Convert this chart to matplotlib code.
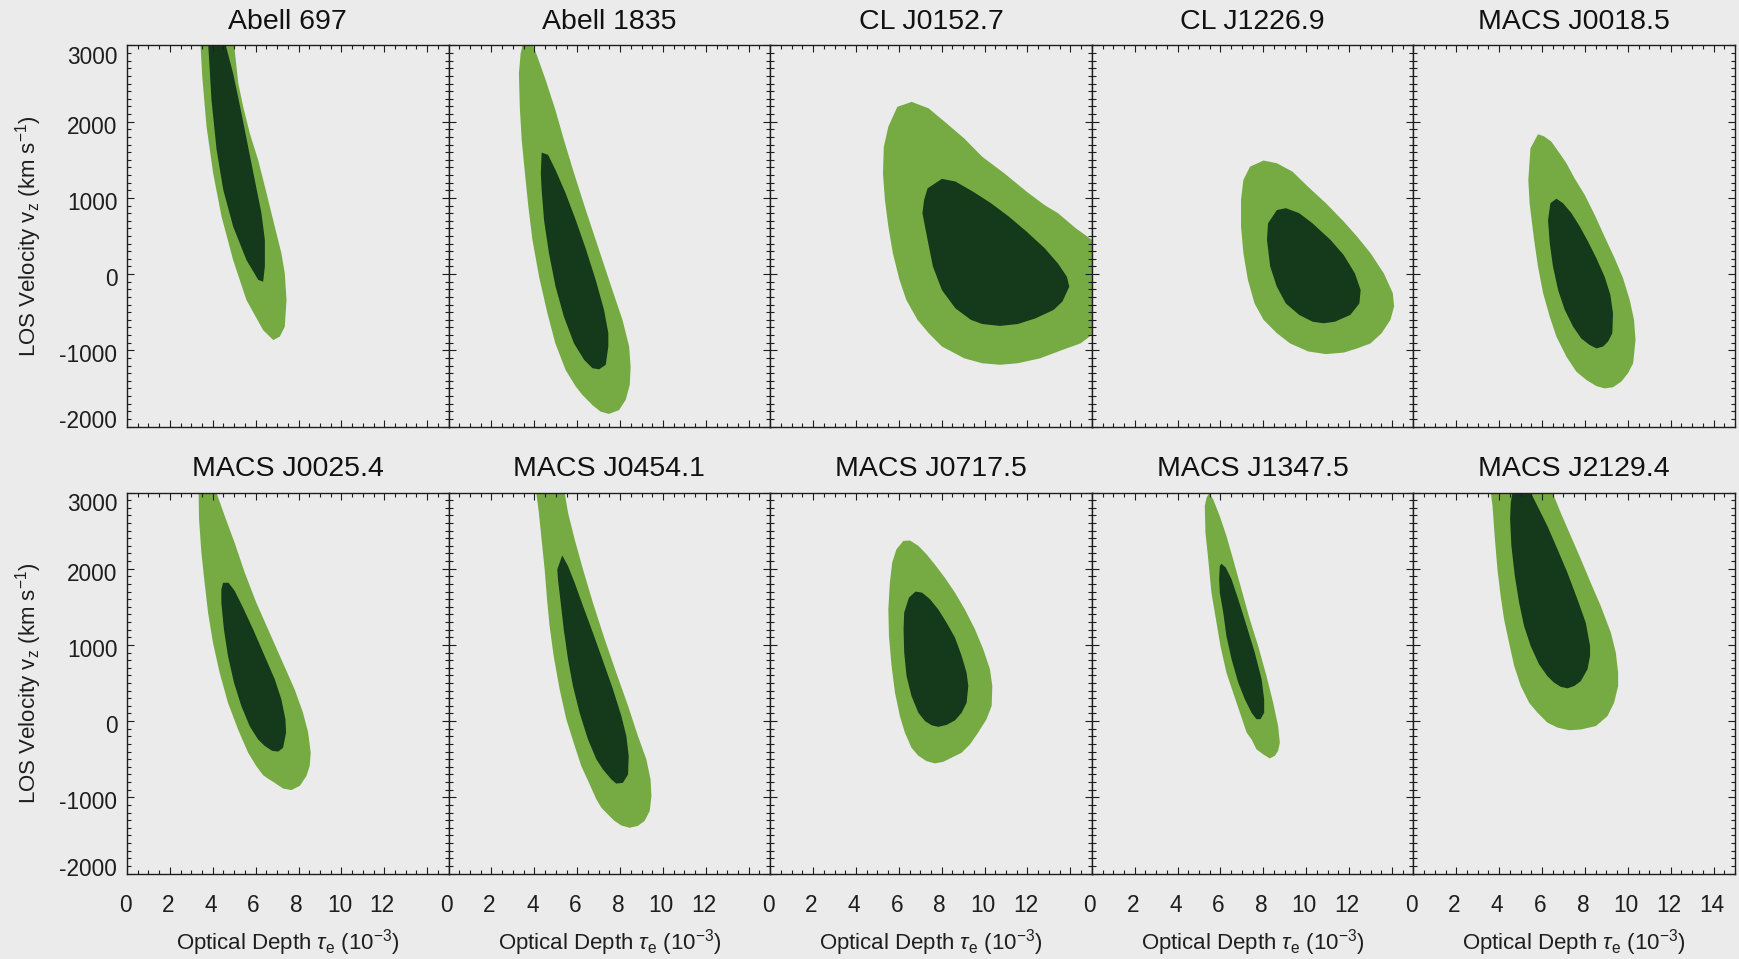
import numpy as np
import matplotlib
matplotlib.use("Agg")
import matplotlib.pyplot as plt
from matplotlib.ticker import MultipleLocator
from matplotlib.transforms import ScaledTranslation

plt.rcParams['font.family'] = ['Liberation Sans', 'DejaVu Sans']
plt.rcParams['mathtext.fontset'] = 'custom'
plt.rcParams['mathtext.rm'] = 'Liberation Sans'
plt.rcParams['mathtext.it'] = 'Liberation Sans:italic'
plt.rcParams['mathtext.bf'] = 'Liberation Sans:bold'

# cluster names, in panel order
clusters = ["Abell 697", "Abell 1835", "CL J0152.7", "CL J1226.9", "MACS J0018.5",
            "MACS J0025.4", "MACS J0454.1", "MACS J0717.5", "MACS J1347.5", "MACS J2129.4"]

# contour outlines: (tau_e [1e-3], v_z [km/s])
# *_95 = outer (light) region, *_68 = inner (dark) region
a697_95 = [(3.43, 3000), (3.51, 2590), (3.71, 1935), (4.02, 1320), (4.41, 755), (4.95, 185),
           (5.57, -340), (6.35, -735), (6.82, -865), (7.13, -820), (7.36, -690), (7.44, -340),
           (7.36, 10), (7.20, 275), (6.89, 625), (6.51, 1060), (6.12, 1495), (5.73, 1845),
           (5.42, 2195), (5.19, 2505), (5.00, 3000)]
a697_68 = [(3.79, 3000), (3.94, 2285), (4.18, 1630), (4.49, 1105), (4.95, 625), (5.57, 185),
           (6.12, -75), (6.35, -100), (6.43, 100), (6.43, 450), (6.27, 800), (5.96, 1235),
           (5.65, 1670), (5.34, 2110), (4.95, 2635), (4.61, 3000)]

a1835_95 = [(3.44, 3000), (3.94, 3000), (4.14, 2855), (4.53, 2545), (4.98, 2155), (5.38, 1760),
            (5.85, 1325), (6.40, 840), (7.02, 315), (7.64, -210), (8.11, -600), (8.42, -950),
            (8.49, -1215), (8.45, -1455), (8.26, -1650), (7.95, -1785), (7.48, -1835),
            (7.09, -1805), (6.71, -1720), (6.24, -1585), (5.93, -1475), (5.46, -1260),
            (4.98, -910), (4.61, -515), (4.22, -35), (3.91, 450), (3.72, 885), (3.56, 1325),
            (3.41, 1760), (3.32, 2195), (3.28, 2635), (3.36, 2895)]
a1835_68 = [(4.34, 1595), (4.64, 1565), (4.99, 1365), (5.46, 1060), (5.93, 710), (6.39, 340),
            (6.86, -75), (7.25, -470), (7.45, -775), (7.45, -950), (7.33, -1190), (7.02, -1250),
            (6.71, -1235), (6.32, -1125), (5.85, -910), (5.38, -560), (4.99, -165), (4.68, 275),
            (4.45, 710), (4.34, 1105), (4.30, 1325)]

cl0152_95 = [(5.93, 2195), (6.60, 2260), (7.39, 2175), (8.22, 1980), (9.05, 1780), (9.89, 1540),
             (10.93, 1320), (11.97, 1080), (12.80, 905), (13.42, 800), (14.26, 600), (15.0, 450),
             (15.0, -800), (14.47, -910), (13.63, -995), (12.59, -1105), (11.55, -1170),
             (10.72, -1190), (9.89, -1170), (9.05, -1105), (8.01, -950), (7.39, -775),
             (6.87, -600), (6.35, -340), (6.03, -75), (5.72, 275), (5.51, 625), (5.35, 975),
             (5.26, 1320), (5.30, 1670), (5.51, 1935)]
cl0152_68 = [(7.34, 1125), (8.01, 1250), (8.64, 1215), (9.47, 1080), (10.30, 930), (11.13, 755),
             (11.97, 555), (12.80, 340), (13.42, 140), (13.84, -35), (13.95, -165), (13.63, -360),
             (13.22, -470), (12.38, -580), (11.55, -655), (10.72, -680), (9.89, -655),
             (9.36, -600), (8.64, -450), (8.01, -210), (7.59, 100), (7.34, 450), (7.10, 800),
             (7.18, 975)]

cl1226_95 = [(7.38, 1410), (8.01, 1490), (8.63, 1455), (9.36, 1345), (10.09, 1145), (10.92, 930),
             (11.75, 690), (12.38, 490), (13.00, 275), (13.62, 10), (14.04, -250), (14.10, -425),
             (13.93, -600), (13.52, -775), (13.00, -910), (12.38, -975), (11.75, -1030),
             (10.92, -1050), (10.09, -1015), (9.25, -910), (8.63, -775), (8.01, -600),
             (7.59, -385), (7.28, -75), (7.07, 275), (6.96, 625), (6.96, 975), (7.07, 1235)]
cl1226_68 = [(8.63, 840), (9.05, 865), (9.67, 800), (10.30, 665), (11.13, 450), (11.75, 250),
             (12.27, 10), (12.54, -210), (12.48, -385), (12.06, -535), (11.34, -625),
             (10.82, -645), (10.30, -625), (9.67, -535), (9.05, -385), (8.63, -165), (8.32, 100),
             (8.17, 450), (8.22, 665)]

m0018_95 = [(5.46, 1650), (5.81, 1835), (6.08, 1810), (6.43, 1740), (6.82, 1585), (7.14, 1455),
            (7.52, 1255), (7.99, 1040), (8.46, 775), (8.92, 490), (9.39, 205), (9.78, -55),
            (10.09, -340), (10.29, -600), (10.36, -865), (10.25, -1170), (10.01, -1300),
            (9.70, -1410), (9.31, -1485), (8.92, -1500), (8.54, -1470), (8.07, -1390),
            (7.60, -1280), (7.14, -1085), (6.67, -820), (6.36, -560), (6.05, -250), (5.81, 100),
            (5.61, 490), (5.42, 930), (5.36, 1235)]
m0018_68 = [(6.39, 930), (6.67, 990), (6.98, 930), (7.37, 800), (7.76, 625), (8.15, 425),
            (8.54, 205), (8.92, -35), (9.19, -275), (9.31, -515), (9.28, -775), (9.08, -885),
            (8.85, -950), (8.54, -975), (8.22, -930), (7.83, -845), (7.45, -690), (7.06, -470),
            (6.75, -210), (6.51, 100), (6.36, 405), (6.28, 710)]

m0025_95 = [(3.34, 3000), (4.17, 3000), (4.56, 2690), (5.02, 2340), (5.49, 1950), (6.03, 1555),
            (6.58, 1205), (7.20, 810), (7.82, 415), (8.21, 110), (8.45, -150), (8.57, -415),
            (8.52, -590), (8.37, -720), (8.06, -850), (7.67, -905), (7.28, -885), (6.89, -810),
            (6.58, -755), (6.35, -710), (6.03, -590), (5.65, -415), (5.18, -110), (4.71, 240),
            (4.32, 635), (4.01, 1030), (3.78, 1425), (3.62, 1815), (3.47, 2210), (3.36, 2650)]
m0025_68 = [(4.48, 1815), (4.74, 1815), (5.02, 1710), (5.41, 1490), (5.88, 1205), (6.42, 855),
            (6.89, 550), (7.20, 285), (7.39, 25), (7.42, -150), (7.28, -350), (7.05, -400),
            (6.77, -390), (6.42, -325), (6.11, -240), (5.72, -65), (5.33, 200), (4.99, 505),
            (4.71, 855), (4.52, 1205), (4.40, 1555), (4.40, 1730)]

m0454_95 = [(4.09, 3000), (5.41, 3000), (5.57, 2735), (5.88, 2385), (6.27, 1990), (6.73, 1555),
            (7.28, 1075), (7.82, 635), (8.37, 200), (8.83, -195), (9.22, -500), (9.42, -765),
            (9.46, -985), (9.38, -1180), (9.14, -1310), (8.83, -1375), (8.44, -1400),
            (8.06, -1370), (7.74, -1310), (7.43, -1225), (7.12, -1135), (6.89, -1025),
            (6.58, -830), (6.19, -590), (5.88, -325), (5.49, 25), (5.18, 415), (4.90, 855),
            (4.71, 1250), (4.59, 1600), (4.48, 1990), (4.32, 2430), (4.21, 2735)]
m0454_68 = [(5.07, 1990), (5.30, 2175), (5.57, 2035), (5.88, 1815), (6.27, 1510), (6.73, 1160),
            (7.20, 790), (7.67, 415), (8.06, 65), (8.29, -195), (8.40, -455), (8.37, -700),
            (8.13, -810), (7.82, -820), (7.59, -765), (7.20, -635), (6.89, -500), (6.50, -240),
            (6.11, 110), (5.80, 460), (5.57, 810), (5.37, 1205), (5.21, 1600), (5.10, 1860)]

m0717_95 = [(5.89, 2255), (6.21, 2365), (6.52, 2370), (6.91, 2300), (7.29, 2190), (7.68, 2055),
            (8.15, 1880), (8.62, 1685), (9.08, 1465), (9.55, 1205), (9.94, 940), (10.25, 680),
            (10.36, 460), (10.33, 200), (10.09, 25), (9.70, -150), (9.32, -305), (8.93, -415),
            (8.46, -480), (8.07, -535), (7.68, -555), (7.29, -525), (6.91, -455), (6.59, -350),
            (6.28, -150), (6.05, 65), (5.82, 375), (5.66, 725), (5.54, 1115), (5.51, 1465),
            (5.58, 1815), (5.69, 2080)]
m0717_68 = [(6.47, 1620), (6.78, 1700), (7.09, 1685), (7.45, 1600), (7.84, 1465), (8.23, 1290),
            (8.62, 1095), (8.93, 855), (9.16, 635), (9.24, 460), (9.16, 240), (8.93, 110),
            (8.62, 10), (8.23, -50), (7.84, -75), (7.53, -55), (7.22, 0), (6.91, 110),
            (6.59, 330), (6.36, 590), (6.25, 900), (6.22, 1205), (6.25, 1425)]

m1347_95 = [(5.27, 2825), (5.35, 2930), (5.47, 2990), (5.66, 2910), (5.97, 2690), (6.28, 2430),
            (6.59, 2125), (6.98, 1730), (7.37, 1335), (7.76, 985), (8.15, 590), (8.46, 240),
            (8.69, -65), (8.77, -285), (8.69, -390), (8.54, -455), (8.30, -490), (7.99, -435),
            (7.68, -370), (7.45, -240), (7.22, -150), (6.91, 110), (6.59, 375), (6.28, 635),
            (6.00, 985), (5.79, 1335), (5.58, 1685), (5.43, 2125), (5.30, 2475)]
m1347_68 = [(5.97, 2035), (6.05, 2065), (6.25, 2015), (6.52, 1860), (6.83, 1600), (7.22, 1250),
            (7.60, 900), (7.92, 550), (8.04, 285), (8.04, 110), (7.87, 25), (7.68, 25),
            (7.45, 110), (7.14, 285), (6.83, 505), (6.52, 810), (6.28, 1115), (6.13, 1425),
            (5.97, 1685), (5.94, 1860)]

m2129_95 = [(3.61, 3000), (6.49, 3000), (6.87, 2735), (7.34, 2430), (7.81, 2125), (8.27, 1815),
            (8.74, 1510), (9.21, 1160), (9.44, 900), (9.55, 635), (9.55, 460), (9.36, 240),
            (9.05, 65), (8.51, -65), (7.81, -110), (7.26, -120), (6.72, -85), (6.25, -20),
            (5.79, 110), (5.40, 240), (5.01, 460), (4.70, 725), (4.46, 1030), (4.23, 1335),
            (4.07, 1640), (3.92, 1990), (3.79, 2430), (3.69, 2825)]
m2129_68 = [(4.62, 3000), (5.47, 3000), (5.86, 2780), (6.25, 2560), (6.72, 2255), (7.18, 1950),
            (7.65, 1600), (8.04, 1290), (8.24, 985), (8.24, 855), (8.12, 680), (7.81, 525),
            (7.50, 460), (7.19, 430), (6.87, 450), (6.56, 505), (6.25, 590), (5.86, 745),
            (5.47, 985), (5.16, 1250), (4.93, 1555), (4.73, 1905), (4.57, 2300), (4.51, 2650),
            (4.54, 2865)]

outer_regions = [a697_95, a1835_95, cl0152_95, cl1226_95, m0018_95,
                 m0025_95, m0454_95, m0717_95, m1347_95, m2129_95]
inner_regions = [a697_68, a1835_68, cl0152_68, cl1226_68, m0018_68,
                 m0025_68, m0454_68, m0717_68, m1347_68, m2129_68]

y_ticks = [-2000, -1000, 0, 1000, 2000, 3000]
y_labels = ["-2000", "-1000", "0", "1000", "2000", "3000"]
x_ticks = [0, 2, 4, 6, 8, 10, 12, 14]

BG = "#ebebeb"
LIGHT = "#76ab43"
DARK = "#143a1b"
INK = "#1e1e1e"

W, H = 1739, 959
fig = plt.figure(figsize=(W / 100, H / 100), dpi=100, facecolor=BG)

left0 = 127 / W
pw = 321.6 / W
ph = 381 / H
row_bottoms = [1 - 426.5 / H, 1 - 873.5 / H]

for i, name in enumerate(clusters):
    row, col = divmod(i, 5)
    ax = fig.add_axes([left0 + col * pw, row_bottoms[row], pw, ph])
    ax.set_facecolor(BG)

    outer = np.array(outer_regions[i])
    inner = np.array(inner_regions[i])
    ax.fill(outer[:, 0], outer[:, 1], color=LIGHT, lw=0)
    ax.fill(inner[:, 0], inner[:, 1], color=DARK, lw=0)

    ax.set_xlim(0, 15)
    ax.set_ylim(-2000, 3000)
    ax.xaxis.set_minor_locator(MultipleLocator(0.5))
    ax.yaxis.set_minor_locator(MultipleLocator(100))

    for sp in ax.spines.values():
        sp.set_linewidth(1.0)
        sp.set_color(INK)
    ax.tick_params(which="both", direction="in", top=True, right=True,
                   color=INK, width=0.8, labelcolor=INK, labelsize=16.3)
    ax.tick_params(which="major", length=5.0)
    ax.tick_params(which="minor", length=2.9)
    ax.tick_params(axis="x", pad=15)
    ax.tick_params(axis="y", pad=7)

    ax.set_title(name, fontsize=20.5, color="#111111", pad=12)

    # x tick labels only on the bottom row; 14 only on the last panel
    if row == 1:
        labs = [str(t) for t in x_ticks]
        if col < 4:
            labs[-1] = ""
        ax.set_xticks(x_ticks, labs)
        for lab in ax.get_xticklabels():
            lab.set_transform(lab.get_transform() + ScaledTranslation(-0.02, 0, fig.dpi_scale_trans))
        ax.set_xlabel(r"Optical Depth $\tau_{\rm e}$ (10$^{-3}$)", fontsize=16, color=INK)
        ax.xaxis.label.set_va("baseline")
        ax.xaxis.set_label_coords(0.5, -0.2)
    else:
        ax.set_xticks(x_ticks, [""] * len(x_ticks))

    if col == 0:
        ax.set_yticks(y_ticks, y_labels)
        shifts = [0.07, -0.03, -0.03, -0.03, -0.03, -0.095]
        for lab, dy in zip(ax.get_yticklabels(), shifts):
            lab.set_transform(lab.get_transform() + ScaledTranslation(0, dy, fig.dpi_scale_trans))
        ax.set_ylabel(r"LOS Velocity v$_{\rm z}$ (km s$^{-1}$)", fontsize=16, color=INK)
        ax.yaxis.label.set_va("center")
        ax.yaxis.set_label_coords(-0.305, 0.5)
    else:
        ax.set_yticks(y_ticks, [""] * len(y_ticks))

fig.savefig("out.png", dpi=100, facecolor=BG)
